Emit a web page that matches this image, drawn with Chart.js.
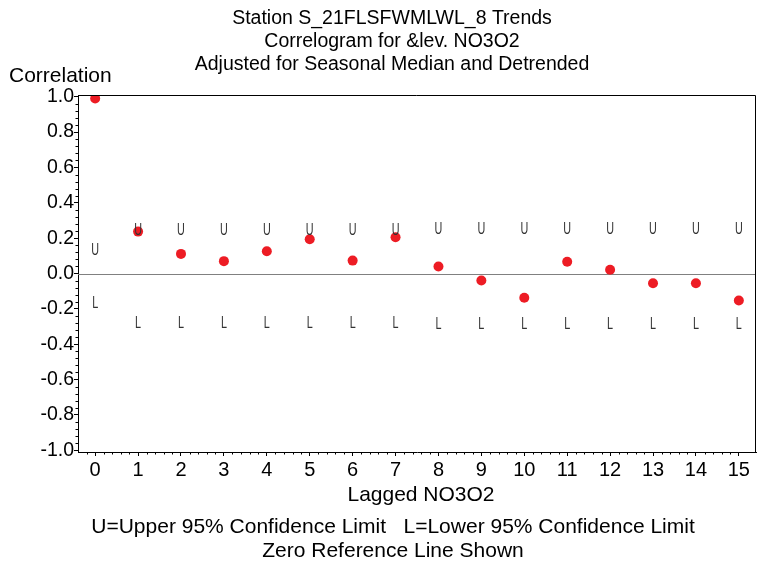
<!DOCTYPE html>
<html>
<head>
<meta charset="utf-8">
<script src="https://cdn.jsdelivr.net/npm/chart.js@4.4.1/dist/chart.umd.min.js"></script>
<style>
  body { margin: 0; background: #fff; }
  canvas { display: block; }
</style>
</head>
<body>
<canvas id="acf" width="767" height="565"></canvas>
<script>
// values
const lags = [0, 1, 2, 3, 4, 5, 6, 7, 8, 9, 10, 11, 12, 13, 14, 15];
const correlation = [0.99, 0.237, 0.111, 0.07, 0.126, 0.194, 0.073, 0.205, 0.04, -0.04, -0.137, 0.066, 0.021, -0.055, -0.055, -0.153];
const upperLimit = [0.15, 0.265, 0.265, 0.265, 0.265, 0.265, 0.265, 0.265, 0.27, 0.27, 0.27, 0.27, 0.27, 0.27, 0.27, 0.27];
const lowerLimit = [-0.15, -0.265, -0.265, -0.265, -0.265, -0.265, -0.265, -0.265, -0.27, -0.27, -0.27, -0.27, -0.27, -0.27, -0.27, -0.27];
const yTicks = [-1.0, -0.8, -0.6, -0.4, -0.2, 0.0, 0.2, 0.4, 0.6, 0.8, 1.0];

const titleLines = ['Station S_21FLSFWMLWL_8 Trends', 'Correlogram for &lev. NO3O2', 'Adjusted for Seasonal Median and Detrended'];
const footLines = ['U=Upper 95% Confidence Limit   L=Lower 95% Confidence Limit', 'Zero Reference Line Shown'];

const FONT = "'Liberation Sans', Arial, sans-serif";

const toPoints = vals => lags.map((l, i) => ({ x: l, y: vals[i] }));

// draws frame, zero line, minor ticks, the U / L letters and all the loose text
const sasExtras = {
  id: 'sasExtras',
  beforeDraw(chart) {
    const ctx = chart.ctx;
    ctx.save();
    ctx.fillStyle = '#fff';
    ctx.fillRect(0, 0, chart.width, chart.height);
    ctx.restore();
  },
  beforeDatasetsDraw(chart) {
    const { ctx, chartArea: a, scales: { y } } = chart;
    const y0 = Math.round(y.getPixelForValue(0)) + 0.5;
    ctx.save();
    ctx.strokeStyle = '#808080';
    ctx.lineWidth = 1;
    ctx.beginPath();
    ctx.moveTo(a.left, y0);
    ctx.lineTo(a.right, y0);
    ctx.stroke();
    ctx.restore();
  },
  afterDatasetsDraw(chart) {
    const ctx = chart.ctx;
    ctx.save();
    ctx.fillStyle = '#333';
    ctx.font = '15px ' + FONT;
    ctx.textAlign = 'center';
    ctx.textBaseline = 'alphabetic';
    [[1, 'U'], [2, 'L']].forEach(([idx, letter]) => {
      chart.getDatasetMeta(idx).data.forEach(pt => {
        ctx.save();
        ctx.translate(pt.x, pt.y + 8);
        ctx.scale(0.72, 1.05);
        ctx.fillText(letter, 0, 0);
        ctx.restore();
      });
    });
    ctx.restore();
  },
  afterDraw(chart) {
    const { ctx, chartArea: a, scales: { x, y } } = chart;
    ctx.save();
    // top and right frame
    ctx.strokeStyle = '#000';
    ctx.lineWidth = 1;
    ctx.beginPath();
    ctx.moveTo(a.left, a.top + 0.5);
    ctx.lineTo(a.right - 0.5, a.top + 0.5);
    ctx.lineTo(a.right - 0.5, a.bottom);
    ctx.stroke();

    // minor ticks
    ctx.beginPath();
    for (let v = -0.2; v < 15.1; v += 0.2) {
      if (Math.abs(v - Math.round(v)) < 0.01) continue;
      const px = Math.round(x.getPixelForValue(v)) + 0.5;
      ctx.moveTo(px, a.bottom);
      ctx.lineTo(px, a.bottom + 2.5);
    }
    for (let v = -1.0; v < 1.001; v += 0.04) {
      if (Math.abs(v * 5 - Math.round(v * 5)) < 0.01) continue;
      const py = Math.round(y.getPixelForValue(v)) + 0.5;
      ctx.moveTo(a.left, py);
      ctx.lineTo(a.left - 2.5, py);
    }
    ctx.stroke();

    ctx.fillStyle = '#000';
    ctx.textAlign = 'center';
    ctx.textBaseline = 'middle';
    ctx.font = '19.5px ' + FONT;
    titleLines.forEach((t, i) => ctx.fillText(t, 392, 19 + i * 23));
    ctx.font = '21px ' + FONT;
    ctx.fillText('Lagged NO3O2', 421, 495);
    footLines.forEach((t, i) => ctx.fillText(t, 393, 527 + i * 24));
    ctx.textAlign = 'left';
    ctx.fillText('Correlation', 9, 76);
    ctx.restore();
  }
};

new Chart(document.getElementById('acf'), {
  type: 'scatter',
  data: {
    datasets: [
      {
        label: 'Correlation',
        data: toPoints(correlation),
        pointRadius: 5,
        pointHoverRadius: 5,
        backgroundColor: '#ed1c24',
        borderWidth: 0
      },
      { label: 'Upper 95%', data: toPoints(upperLimit), pointRadius: 0 },
      { label: 'Lower 95%', data: toPoints(lowerLimit), pointRadius: 0 }
    ]
  },
  options: {
    responsive: false,
    animation: false,
    devicePixelRatio: 1,
    layout: { padding: { top: 95, right: 11, left: 0, bottom: 0 } },
    plugins: { legend: { display: false }, tooltip: { enabled: false } },
    scales: {
      x: {
        type: 'linear',
        min: -0.4,
        max: 15.4,
        afterBuildTicks: s => { s.ticks = lags.map(v => ({ value: v })); },
        afterFit: s => { s.height = 113; },
        ticks: { color: '#000', font: { family: FONT, size: 20 }, padding: 2, maxRotation: 0, autoSkip: false },
        grid: { drawOnChartArea: false, tickLength: 4, color: '#000' },
        border: { color: '#000', width: 1 }
      },
      y: {
        min: -1.01,
        max: 1.01,
        afterBuildTicks: s => { s.ticks = yTicks.map(v => ({ value: v })); },
        afterFit: s => { s.width = 78; },
        ticks: { color: '#000', font: { family: FONT, size: 19.5 }, padding: 0, callback: v => v.toFixed(1) },
        grid: { drawOnChartArea: false, tickLength: 4, color: '#000' },
        border: { color: '#000', width: 1 }
      }
    }
  },
  plugins: [sasExtras]
});
</script>
</body>
</html>
